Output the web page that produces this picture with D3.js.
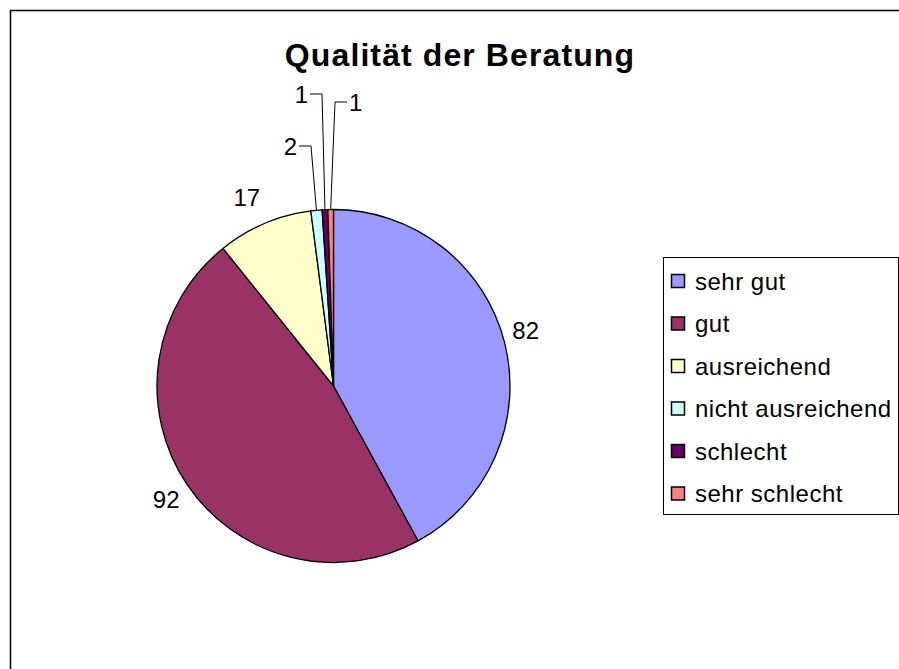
<!DOCTYPE html>
<html>
<head>
<meta charset="utf-8">
<script src="https://cdnjs.cloudflare.com/ajax/libs/d3/7.8.5/d3.min.js"></script>
<style>
    body { margin: 0; background: #fff; }
    text { font-family: "Liberation Sans", Arial, sans-serif; }
</style>
</head>
<body>
<div id="chart"></div>
<script>
// Chart data
var categories = ["sehr gut", "gut", "ausreichend", "nicht ausreichend", "schlecht", "sehr schlecht"];
var values = [82, 92, 17, 2, 1, 1];
var colors = ["#9999FF", "#993366", "#FFFFCC", "#CCFFFF", "#660066", "#FF8080"];
var title = "Qualität der Beratung";

var width = 899, height = 669;

var svg = d3.select("#chart").append("svg")
    .attr("width", width)
    .attr("height", height);

// Chart area border (runs off the right and bottom edge)
svg.append("rect")
    .attr("x", 10.5)
    .attr("y", 10.5)
    .attr("width", 940)
    .attr("height", 700)
    .attr("fill", "#fff")
    .attr("stroke", "#000")
    .attr("stroke-width", 1.5);

svg.append("text")
    .attr("x", 460)
    .attr("y", 66)
    .attr("text-anchor", "middle")
    .style("font-size", "32px")
    .style("font-weight", "bold")
    .style("letter-spacing", "1.1px")
    .text(title);

// Pie
var cx = 333.5, cy = 386, r = 176.5;

var pie = d3.pie().sort(null).value(function(d) { return d; });
var arcs = pie(values);
var arc = d3.arc().innerRadius(0).outerRadius(r);

var g = svg.append("g").attr("transform", "translate(" + cx + "," + cy + ")");

g.selectAll(".slice")
    .data(arcs)
    .enter().append("path")
    .attr("class", "slice")
    .attr("d", arc)
    .attr("fill", function(d, i) { return colors[i]; })
    .attr("stroke", "#000")
    .attr("stroke-width", 1.3)
    .attr("stroke-linejoin", "round");

function polar(angle, rad) {
    return [Math.sin(angle) * rad, -Math.cos(angle) * rad];
}

// Labels: big slices just outside the pie (small nudges), small ones moved up with leader lines
var nudge = {0: [-5, -5], 1: [2, 0], 2: [-7, -1]};
var smallOffsets = {
    3: {lx: -22.5, ly: -240, side: -1},
    4: {lx: -11.5, ly: -292, side: -1},
    5: {lx: 1.5, ly: -284, side: 1}
};

arcs.forEach(function(d, i) {
    var mid = (d.startAngle + d.endAngle) / 2;
    if (smallOffsets[i] === undefined) {
        var p = polar(mid, r + 27);
        var n = nudge[i] || [0, 0];
        g.append("text")
            .attr("x", p[0] + n[0])
            .attr("y", p[1] + n[1])
            .attr("dy", "0.36em")
            .attr("text-anchor", "middle")
            .style("font-size", "24px")
            .text(d.value);
    } else {
        var o = smallOffsets[i];
        var e = polar(mid, r);
        var endX = o.lx + o.side * 12;
        g.append("path")
            .attr("d", "M" + e[0] + "," + e[1] + "L" + o.lx + "," + o.ly + "L" + endX + "," + o.ly)
            .attr("fill", "none")
            .attr("stroke", "#000")
            .attr("stroke-width", 1);
        g.append("text")
            .attr("x", endX + o.side * 2)
            .attr("y", o.ly)
            .attr("dy", "0.36em")
            .attr("text-anchor", o.side < 0 ? "end" : "start")
            .style("font-size", "24px")
            .text(d.value);
    }
});

// Legend
var legend = svg.append("g").attr("transform", "translate(663,257)");

legend.append("rect")
    .attr("x", 0.5)
    .attr("y", 0.5)
    .attr("width", 235)
    .attr("height", 257)
    .attr("fill", "#fff")
    .attr("stroke", "#000")
    .attr("stroke-width", 1);

var item = legend.selectAll(".item")
    .data(categories)
    .enter().append("g")
    .attr("class", "item")
    .attr("transform", function(d, i) { return "translate(0," + (24 + i * 42.5) + ")"; });

item.append("rect")
    .attr("x", 8.5)
    .attr("y", -6.5)
    .attr("width", 13)
    .attr("height", 13)
    .attr("fill", function(d, i) { return colors[i]; })
    .attr("stroke", "#000")
    .attr("stroke-width", 1.5);

item.append("text")
    .attr("x", 32)
    .attr("y", 0)
    .attr("dy", "0.36em")
    .style("font-size", "24px")
    .style("letter-spacing", "0.5px")
    .text(function(d) { return d; });
</script>
</body>
</html>
